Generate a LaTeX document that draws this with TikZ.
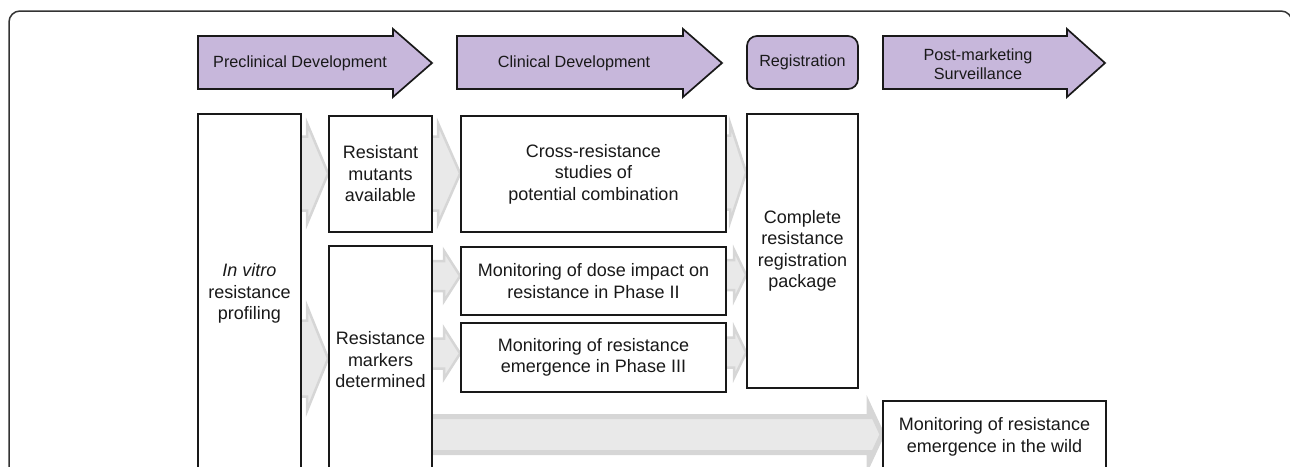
\documentclass[tikz,border=0pt]{standalone}
\usepackage{fontspec}
\setmainfont{Liberation Sans}
\usetikzlibrary{calc,backgrounds}
\definecolor{hdr}{RGB}{199,183,219}
\definecolor{garrfill}{RGB}{233,233,233}
\definecolor{garrline}{RGB}{214,214,214}
\definecolor{ink}{RGB}{25,25,25}
\tikzset{
  box/.style={draw=ink, line width=1.7pt, fill=white, inner sep=0pt, align=center, text=ink,
    font=\fontsize{18}{21.5}\selectfont},
  hdrshape/.style={draw=ink, line width=1.7pt, fill=hdr, line join=miter},
  hdrtext/.style={inner sep=0pt, text=ink, font=\fontsize{16.2}{19}\selectfont, align=center},
  garr/.style={fill=garrfill, draw=garrline, line join=miter},
  frame/.style={draw=black!80, line width=1.5pt, rounded corners=11pt},
}
% #1 source, #2 target, #3 y centre, #4 body half, #5 head half, #6 head length, #7 line width
\newcommand\garrow[7]{%
  \coordinate (gy) at (0,#3);
  \coordinate (gs) at ([xshift=-8pt]#1.east |- gy);
  \coordinate (gt) at (#2.west |- gy);
  \draw[garr, line width=#7] ($(gs)+(0,-#4)$) -- ($(gt)+(-#6,-#4)$) -- ($(gt)+(-#6,-#5)$) -- (gt)
    -- ($(gt)+(-#6,#5)$) -- ($(gt)+(-#6,#4)$) -- ($(gs)+(0,#4)$) -- cycle;}
\begin{document}
\begin{tikzpicture}[x=1pt,y=-1pt]
\useasboundingbox (0,0) rectangle (1290,466);
\clip (0,0) rectangle (1290,466);
% outer frame
\draw[frame] (9,500) -- (9,11) -- (1292,11) -- (1292,500);

% header arrows
\draw[hdrshape] (198,36) -- (393,36) -- (393,29) -- (432,63) -- (393,97) -- (393,89) -- (198,89) -- cycle;
\node[hdrtext, anchor=west] (hpre) at (213,63) {Preclinical Development};
\draw[hdrshape] (457,36) -- (683,36) -- (683,29) -- (722,63) -- (683,97) -- (683,89) -- (457,89) -- cycle;
\node[hdrtext] (hclin) at (574,63) {Clinical Development};
\node[hdrshape, rounded corners=10pt, minimum width=111pt, minimum height=53pt, inner sep=0pt,
  text=ink, font=\fontsize{16.2}{19}\selectfont] (hreg) at (802.5,62.5) {Registration};
\draw[hdrshape] (883,36) -- (1067,36) -- (1067,29) -- (1105,63) -- (1067,97) -- (1067,89) -- (883,89) -- cycle;
\node[hdrtext] (hpost) at (978,64) {Post-marketing\\Surveillance};

% boxes
\node[box, minimum width=103pt, minimum height=359pt] (invitro) at (249.5,293.5)
  {\textit{In vitro}\\resistance\\profiling};
\node[box, minimum width=103pt, minimum height=116pt] (mutants) at (380.5,174)
  {Resistant\\mutants\\available};
\node[box, minimum width=103pt, minimum height=228pt] (markers) at (380.5,360)
  {Resistance\\markers\\determined};
\node[box, minimum width=265pt, minimum height=116pt] (cross) at (593.5,174)
  {Cross-resistance\\studies of\\potential combination};
\node[box, minimum width=265pt, minimum height=68pt] (dose) at (593.5,281)
  {Monitoring of dose impact on\\resistance in Phase II};
\node[box, minimum width=265pt, minimum height=69pt] (phase) at (593.5,357.5)
  {Monitoring of resistance\\emergence in Phase III};
\node[box, minimum width=111pt, minimum height=274pt] (complete) at (802.5,251)
  {Complete\\resistance\\registration\\package};
\node[box, minimum width=223pt, minimum height=72pt] (wild) at (994.5,437)
  {Monitoring of resistance\\emergence in the wild};

% grey connectors
\begin{scope}[on background layer]
\garrow{invitro}{mutants}{173.5}{37}{50}{21}{2.5pt}
\garrow{invitro}{markers}{358.5}{38}{52}{21}{2.5pt}
\garrow{mutants}{cross}{173.5}{37}{50}{22}{2.5pt}
\garrow{markers}{dose}{276}{15}{25}{16}{2.5pt}
\garrow{markers}{phase}{353.5}{15}{25}{16}{2.5pt}
\garrow{cross}{complete}{172.5}{37}{49}{16}{2.5pt}
\garrow{dose}{complete}{275}{15}{25}{12}{2.5pt}
\garrow{phase}{complete}{352.5}{15}{25}{12}{2.5pt}
\garrow{markers}{wild}{434.5}{18}{28}{13}{5pt}
\end{scope}
\end{tikzpicture}
\end{document}
